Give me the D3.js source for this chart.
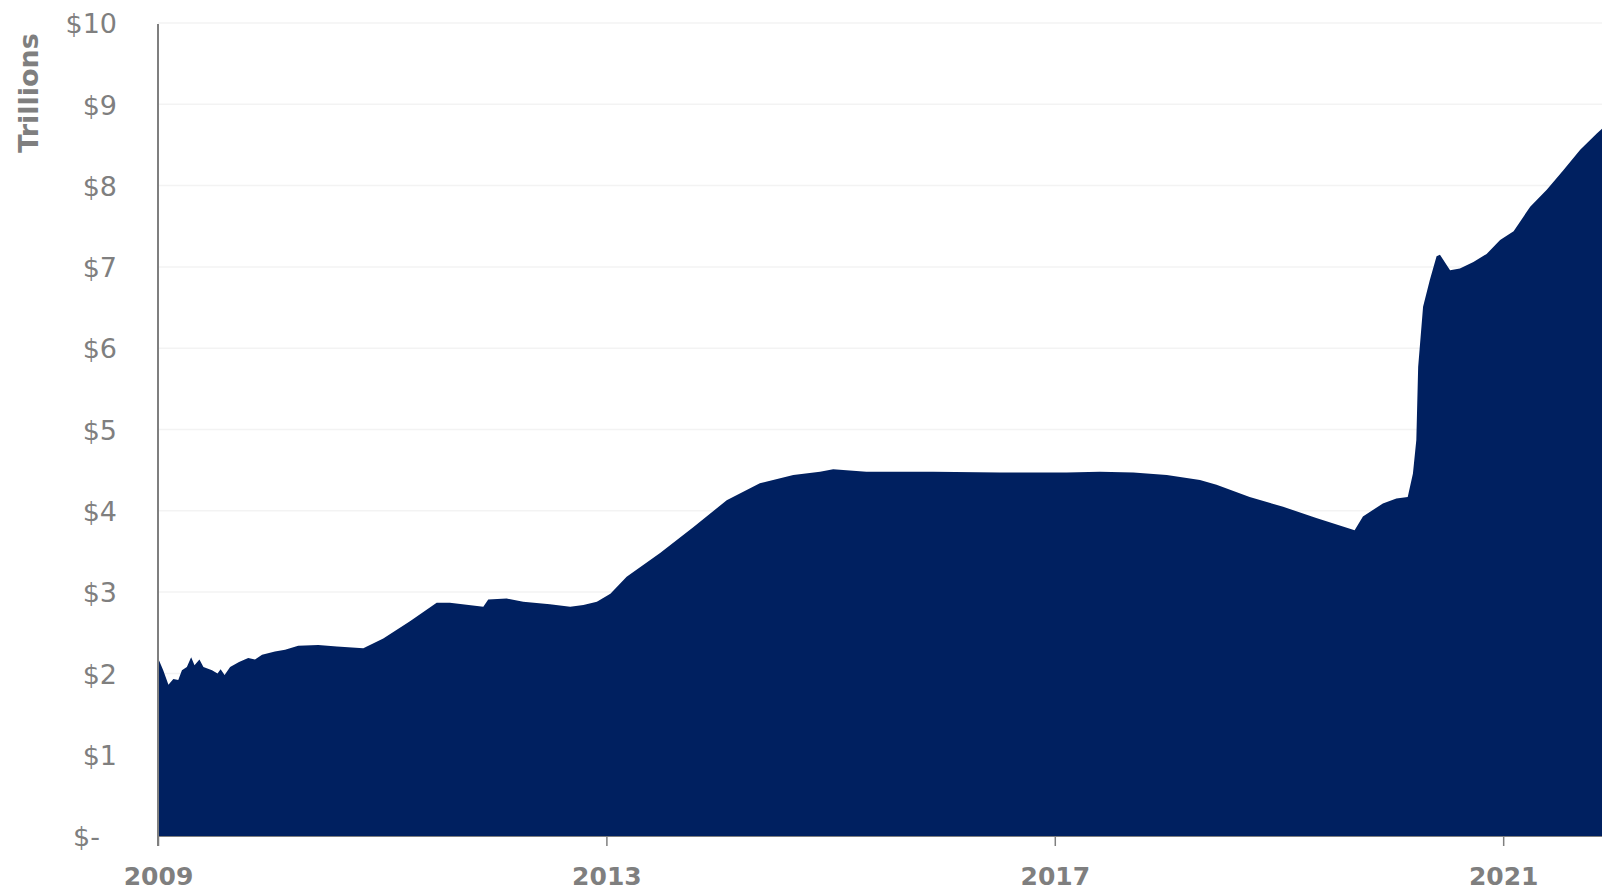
<!DOCTYPE html>
<html>
<head>
<meta charset="utf-8">
<script src="https://cdn.jsdelivr.net/npm/d3@7"></script>
<style>
  html, body { margin: 0; padding: 0; background: #ffffff; }
  svg { display: block; }
</style>
</head>
<body>
<svg id="chart" width="1602" height="894"></svg>
<script>
// ---- Data (Fed balance sheet, trillions of USD) ----
const dates = ["2009-01-01","2009-01-18","2009-02-04","2009-02-20","2009-03-08","2009-03-20","2009-04-05","2009-04-19","2009-04-30","2009-05-16","2009-05-29",
"2009-06-26","2009-07-14","2009-07-24","2009-08-06","2009-08-24","2009-09-22","2009-10-22","2009-11-13","2009-12-06","2010-01-17","2010-02-19",
"2010-04-03","2010-06-07","2010-08-07","2010-11-01","2011-01-05","2011-04-02","2011-06-28","2011-08-10","2011-11-27","2011-12-13","2012-02-11","2012-04-05","2012-07-01",
"2012-09-05","2012-10-18","2012-12-01","2013-01-14","2013-03-08","2013-06-25","2013-10-12","2014-01-28","2014-05-16","2014-09-02",
"2014-11-28","2015-01-10","2015-04-28","2015-12-01","2016-07-06","2017-02-09","2017-05-28","2017-09-14","2018-01-01","2018-04-19",
"2018-06-12","2018-09-28","2019-01-15","2019-05-03","2019-09-05","2019-10-02","2019-12-06","2020-01-19","2020-02-25","2020-03-13",
"2020-03-24","2020-03-30","2020-04-15","2020-05-07","2020-05-29","2020-06-09","2020-07-12","2020-08-13","2020-09-26","2020-11-08",
"2020-12-22","2021-02-04","2021-03-30","2021-05-23","2021-07-16","2021-09-09","2021-11-02","2021-11-19"];

const values = [2.19,2.04,1.86,1.93,1.92,2.04,2.08,2.20,2.10,2.17,2.08,
2.04,2.00,2.05,1.98,2.08,2.14,2.19,2.17,2.23,2.27,2.29,
2.34,2.35,2.33,2.31,2.43,2.64,2.87,2.87,2.82,2.91,2.92,2.88,2.85,
2.82,2.84,2.88,2.98,3.19,3.48,3.80,4.13,4.34,4.44,
4.48,4.51,4.48,4.48,4.47,4.47,4.48,4.47,4.44,4.38,
4.32,4.17,4.05,3.91,3.76,3.93,4.09,4.15,4.17,4.46,
4.87,5.77,6.51,6.84,7.13,7.15,6.96,6.98,7.06,7.16,
7.33,7.44,7.74,7.95,8.19,8.44,8.64,8.70];

const yTicks = [0,1,2,3,4,5,6,7,8,9,10];
const xTickYears = ["2009","2013","2017","2021"];
const yAxisTitle = "Trillions";

// ---- Setup ----
const parse = d3.utcParse("%Y-%m-%d");
const series = dates.map((d, i) => ({ date: parse(d), value: values[i] }));

const svg = d3.select("#chart");
const plotLeft = 158, plotRight = 1602, plotTop = 23, plotBottom = 836;

const x = d3.scaleUtc()
  .domain([parse("2009-01-01"), parse("2021-11-19")])
  .range([plotLeft, plotRight]);
const y = d3.scaleLinear().domain([0, 10]).range([plotBottom, plotTop]);

const gray = "#7f7f7f";

// gridlines
svg.append("g")
  .selectAll("line")
  .data(yTicks.filter(v => v > 0))
  .join("line")
  .attr("x1", plotLeft).attr("x2", plotRight)
  .attr("y1", d => y(d)).attr("y2", d => y(d))
  .attr("stroke", "#f3f3f3")
  .attr("stroke-width", 1.5);

// area
const area = d3.area()
  .x(d => x(d.date))
  .y0(y(0))
  .y1(d => y(d.value))
  .curve(d3.curveLinear);

svg.append("path")
  .datum(series)
  .attr("d", area)
  .attr("fill", "#002060");

// x axis
const xAxis = d3.axisBottom(x)
  .tickValues(xTickYears.map(s => parse(s + "-01-01")))
  .tickSize(10)
  .tickFormat(d3.utcFormat("%Y"));

const gx = svg.append("g")
  .attr("transform", `translate(0,${plotBottom})`)
  .call(xAxis);
gx.select(".domain").attr("stroke", gray).attr("stroke-width", 1);
gx.selectAll(".tick line").attr("stroke", gray).attr("stroke-width", 1.5);
gx.selectAll(".tick text")
  .attr("y", 49)
  .attr("dy", 0)
  .attr("fill", gray)
  .attr("font-family", "DejaVu Sans, sans-serif")
  .attr("font-weight", "bold")
  .attr("font-size", 25);

// y axis
const yAxis = d3.axisLeft(y)
  .tickValues(yTicks)
  .tickSize(0)
  .tickPadding(41)
  .tickFormat(v => v === 0 ? "$-" : "$" + v);

const gy = svg.append("g")
  .attr("transform", `translate(${plotLeft},0)`)
  .call(yAxis);
gy.select(".domain").remove();
gy.selectAll(".tick text")
  .attr("fill", gray)
  .attr("font-family", "DejaVu Sans, sans-serif")
  .attr("font-size", 27)
  .attr("dy", "0.36em")
  .filter(d => d === 0)
  .attr("x", -58);

// y axis line
svg.append("line")
  .attr("x1", plotLeft).attr("x2", plotLeft)
  .attr("y1", plotTop + 1).attr("y2", plotBottom + 10)
  .attr("stroke", gray)
  .attr("stroke-width", 2);

// y axis title
svg.append("text")
  .attr("transform", `translate(38,93) rotate(-90)`)
  .attr("text-anchor", "middle")
  .attr("fill", gray)
  .attr("font-family", "DejaVu Sans, sans-serif")
  .attr("font-weight", "bold")
  .attr("font-size", 27)
  .text(yAxisTitle);
</script>
</body>
</html>
